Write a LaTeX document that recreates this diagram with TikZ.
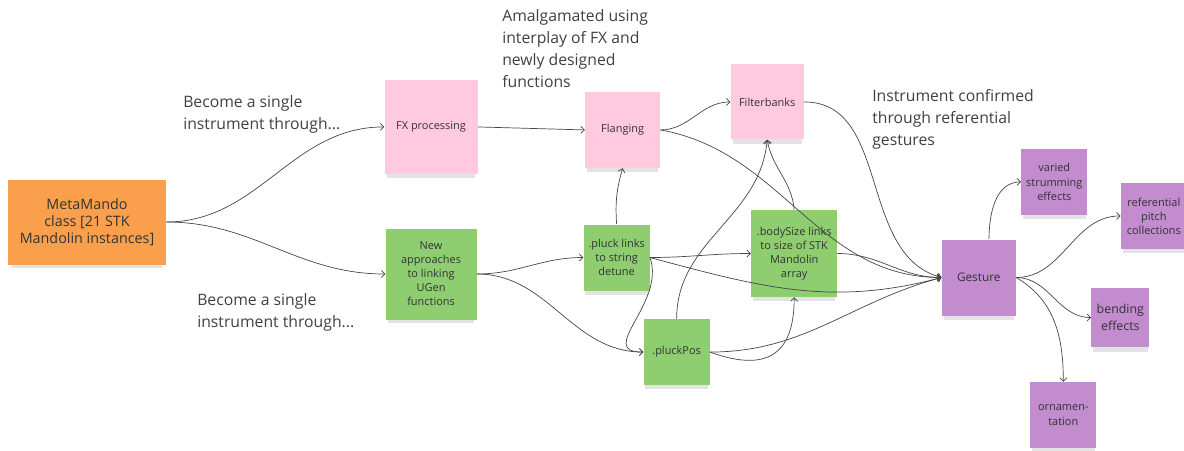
\documentclass[tikz,border=0pt]{standalone}
\usepackage{xcolor}
\usepackage{fontspec}
\setmainfont{Open Sans}
\usepackage{tikz}
\usetikzlibrary{arrows.meta, positioning, shadows}

\definecolor{mmorange}{RGB}{250,160,76}
\definecolor{notepink}{RGB}{255,202,222}
\definecolor{notegreen}{RGB}{142,206,112}
\definecolor{notepurple}{RGB}{194,140,206}
\definecolor{inkgray}{RGB}{70,70,70}

\begin{document}
\begin{tikzpicture}[
    auto,
    note/.style={rectangle, text centered, align=center, inner sep=2pt, text=black!80,
        font=\fontsize{7.8}{10}\selectfont,
        drop shadow={shadow xshift=0pt, shadow yshift=-4.5pt, shadow scale=0.95, opacity=0.22}},
    mmnote/.style={note, fill=mmorange, font=\fontsize{10.2}{11.9}\selectfont},
    pinknote/.style={note, fill=notepink},
    greennote/.style={note, fill=notegreen},
    purplenote/.style={note, fill=notepurple},
    remark/.style={anchor=north west, inner sep=0pt, align=left, text=black!75,
        font=\fontsize{11.2}{15.6}\selectfont},
    line/.style={draw, inkgray, line width=0.5pt, -{Straight Barb[length=2.5pt, width=5pt]}}
]
\useasboundingbox (0,0) rectangle (29.6,11.25);
% Nodes
\node [mmnote, minimum width=3.95cm, minimum height=2.125cm] (mm) at (2.175,5.7) {MetaMando\\class [21 STK\\Mandolin instances]};

\node [pinknote, minimum width=2.325cm, minimum height=2.35cm, above right=0.125cm and 5.45cm of mm] (fx) {FX processing};
\node [greennote, minimum size=2.275cm, below=1.35cm of fx] (ugen) {New\\approaches\\to linking\\UGen\\functions};

\node [pinknote, minimum width=1.875cm, minimum height=1.9cm, right=2.675cm of fx, yshift=-0.075cm] (flang) {Flanging};
\node [pinknote, minimum width=1.825cm, minimum height=1.875cm, right=1.75cm of flang, yshift=0.7cm] (filt) {Filterbanks};

\node [greennote, minimum size=1.65cm, below=1.4cm of flang, xshift=-0.15cm] (pluck) {.pluck links\\to string\\detune};
\node [greennote, minimum size=1.65cm, below=0.7cm of pluck, xshift=1.5cm] (pos) {.pluckPos};
\node [greennote, minimum width=2.15cm, minimum height=2.175cm, right=2.525cm of pluck, yshift=0.1cm] (body) {.bodySize links\\to size of STK\\Mandolin\\array};

\node [purplenote, minimum width=1.85cm, minimum height=1.9cm, font=\fontsize{8.4}{11}\selectfont, right=2.6cm of body, yshift=-0.6cm] (gest) {Gesture};

\node [purplenote, minimum size=1.65cm, above right=0.6cm and 0.125cm of gest] (strum) {varied\\strumming\\effects};
\node [purplenote, minimum size=1.65cm, right=0.825cm of strum, yshift=-0.85cm] (pitch) {referential\\pitch\\collections};
\node [purplenote, minimum width=1.45cm, minimum height=1.475cm, font=\fontsize{8.8}{11.6}\selectfont, right=1.875cm of gest, yshift=-1cm] (bend) {bending\\effects};
\node [purplenote, minimum size=1.65cm, below right=1.65cm and 0.35cm of gest] (orna) {ornamen-\\tation};

% Remarks
\node [remark] (become1) at (4.575,8.875) {Become a single\\instrument through...};
\node [remark] (become2) at (4.925,3.925) {Become a single\\instrument through...};
\node [remark] (amalg) at (12.55,11.025) {Amalgamated using\\interplay of FX and\\newly designed\\functions};
\node [remark] (instr) at (21.8,9.025) {Instrument confirmed\\through referential\\gestures};

% Edges
\path [line] (mm.east) to[out=0, in=180] (fx.west);
\path [line] (mm.east) to[out=0, in=180] (ugen.west);
\path [line] (fx.east) -- (flang.west);

\path [line] (flang.east) to[out=0, in=180] (filt.west);
\path [line] (flang.east) to[out=-10, in=180] (gest.west);
\path [line] (filt.east) to[out=0, in=165] (gest.west);

\path [line] (ugen.east) to[out=0, in=180] (pluck.west);
\path [line] (ugen.east) to[out=0, in=180] (pos.west);

\path [line] (pluck.north) to[bend left=10] (flang.south);
\path [line] (pluck.east) to[out=0, in=180] (body.west);
\path [line] (pluck.east) to[out=-15, in=195] (gest.west);
\path [line] (pluck.east) to[out=-70, in=180, looseness=1.3] (pos.west);

\path [line] (pos.north) to[out=90, in=-95] (filt.south);
\path [line] (body.north) to[out=95, in=-80] (filt.south);
\path [line] (pos.east) to[out=0, in=195] (gest.west);
\path [line] (pos.east) to[out=-20, in=-90, looseness=1.5] (body.south);
\path [line] (body.east) to[out=0, in=180] (gest.west);

\path [line] (gest.75) to[out=90, in=180] (strum.west);
\path [line] (gest.east) to[out=0, in=180] (pitch.west);
\path [line] (gest.east) to[out=0, in=180] (bend.west);
\path [line] (gest.east) to[out=-30, in=90] (orna.north);
\end{tikzpicture}
\end{document}
